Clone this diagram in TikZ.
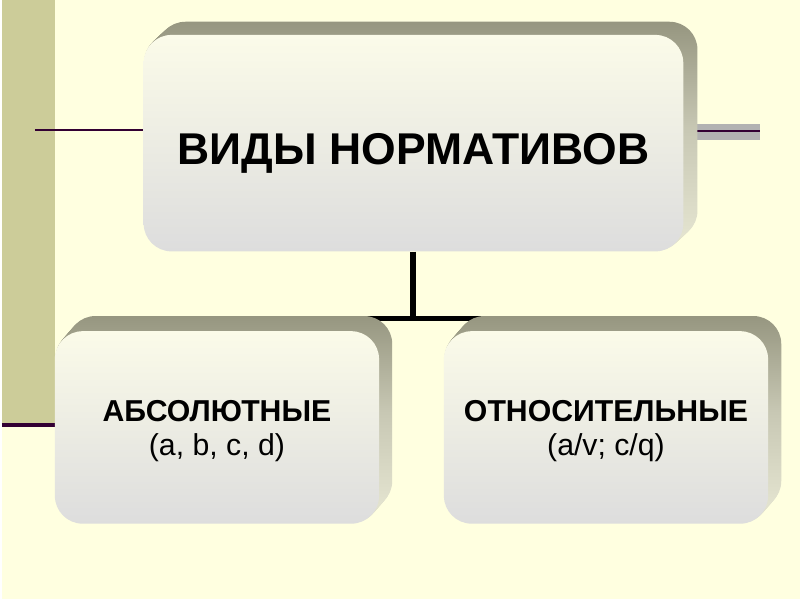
\documentclass[tikz,border=0pt]{standalone}
\usepackage{fontspec}
\setmainfont{Liberation Sans}
\usetikzlibrary{calc}
\pgfdeclarelayer{bg}
\pgfdeclarelayer{ext}
\pgfsetlayers{bg,ext,main}
\definecolor{bgc}{RGB}{255,255,224}
\definecolor{strip}{RGB}{204,204,153}
\definecolor{plum}{RGB}{51,0,51}
\definecolor{band}{RGB}{178,178,178}
\definecolor{extA}{RGB}{150,150,128}
\definecolor{extB}{RGB}{200,200,180}
\definecolor{extC}{RGB}{228,228,208}
\definecolor{faceA}{RGB}{251,251,233}
\definecolor{faceB}{RGB}{221,221,221}
\tikzset{
  face/.style={rectangle, rounded corners=28pt, top color=faceA, bottom color=faceB,
    inner sep=0pt, text=black},
  extfill/.style={rounded corners=28pt, top color=extA, bottom color=extC, middle color=extB},
  conn/.style={line width=6pt, black},
  deco/.style={line width=2pt, plum},
  bigtxt/.style={font=\fontsize{44.6}{50}\selectfont\bfseries},
  smalltxt/.style={font=\fontsize{30.3}{35}\selectfont},
}
\newcommand{\twolines}[2]{\raisebox{-28.5pt}[0pt][0pt]{\begin{tabular}[b]{@{}c@{}}\textbf{#1}\\[-1pt]#2\end{tabular}}}
\newcommand{\oneline}[1]{\raisebox{-21pt}[0pt][0pt]{#1}}
\begin{document}
\begin{tikzpicture}[x=1pt,y=-1pt]
\begin{pgfonlayer}{bg}
  \fill[bgc] (0,0) rectangle (800,600);
  \fill[strip] (0,0) rectangle (53,427);
  \draw[plum, line width=4pt] (0,426.5) -- (53,426.5);
  \draw[deco] (33,130.5) -- (143,130.5);
  \fill[band] (696,124) rectangle (760,140);
  \draw[deco] (696,131) -- (760,131);
\end{pgfonlayer}
\useasboundingbox (0,0) rectangle (800,600);

\node[face, minimum width=541pt, minimum height=217pt, bigtxt] (topn) at (412.5,143.5) {\oneline{ВИДЫ НОРМАТИВОВ}};
\node[face, minimum width=325pt, minimum height=193pt, smalltxt] (absn) at (215.5,428.5)
  {\twolines{АБСОЛЮТНЫЕ}{(a, b, c, d)}};
\node[face, minimum width=325pt, minimum height=193pt, smalltxt] (reln) at (605.5,428.5)
  {\twolines{ОТНОСИТЕЛЬНЫЕ}{(a/v; c/q)}};

\begin{pgfonlayer}{ext}
  \foreach \n/\dx/\dy in {topn/14/13, absn/13/15, reln/13/15}{
    \foreach \i in {1,...,14}{
      \path[extfill] ($(\n.south west)+(\i*\dx/14,-\i*\dy/14)$) rectangle ($(\n.north east)+(\i*\dx/14,-\i*\dy/14)$);
    }
  }
\end{pgfonlayer}

\begin{pgfonlayer}{bg}
  \coordinate (j) at ($(topn.south)+(0,67)$);
  \draw[conn] (topn.south) -- (j);
  \draw[conn, line width=5pt] (absn.center |- j) -- (reln.center |- j);
\end{pgfonlayer}
\end{tikzpicture}
\end{document}
